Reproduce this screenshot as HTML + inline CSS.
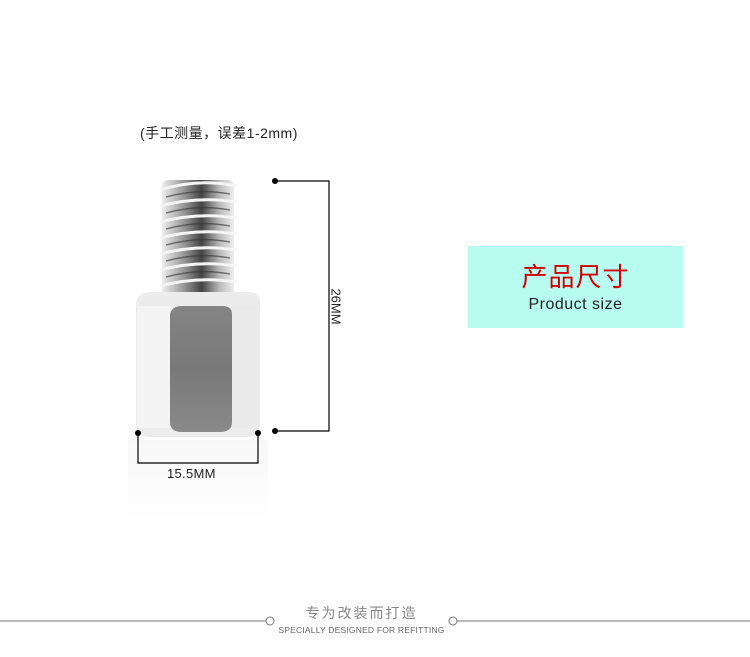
<!DOCTYPE html>
<html><head><meta charset="utf-8"><style>
html,body{margin:0;padding:0;background:#fff;}
body{width:750px;height:657px;position:relative;overflow:hidden;font-family:"Liberation Sans","Noto Sans CJK SC",sans-serif;}
.t{position:absolute;white-space:nowrap;}
</style></head><body>
<svg width="750" height="657" style="position:absolute;left:0;top:0">
<defs>
<linearGradient id="th" x1="0" x2="1">
<stop offset="0" stop-color="#eee"/><stop offset="0.3" stop-color="#999"/><stop offset="0.55" stop-color="#444"/><stop offset="0.8" stop-color="#bbb"/><stop offset="1" stop-color="#eee"/>
</linearGradient>
<linearGradient id="mid" x1="0" x2="0" y1="0" y2="1">
<stop offset="0" stop-color="#858585"/><stop offset="0.5" stop-color="#787878"/><stop offset="1" stop-color="#8a8a8a"/>
</linearGradient>
<linearGradient id="sh" x1="0" x2="0" y1="0" y2="1">
<stop offset="0" stop-color="#f7f7f7"/><stop offset="1" stop-color="#fff"/>
</linearGradient>
</defs>
<rect x="128" y="440" width="140" height="80" fill="url(#sh)"/>
<rect x="162" y="180" width="72" height="118" rx="6" fill="url(#th)"/>
<g stroke="#f4f4f4" stroke-width="3" fill="none">
<path d="M160 190 Q198 178 236 186"/><path d="M160 206 Q198 196 236 202"/><path d="M160 222 Q198 212 236 218"/>
<path d="M160 238 Q198 228 236 234"/><path d="M160 254 Q198 244 236 250"/><path d="M160 270 Q198 260 236 266"/><path d="M160 286 Q198 276 236 282"/>
</g>
<g stroke="#333" stroke-width="1.5" fill="none" opacity="0.6">
<path d="M166 197 Q198 188 230 194"/><path d="M166 213 Q198 204 230 210"/><path d="M166 229 Q198 220 230 226"/>
<path d="M166 245 Q198 236 230 242"/><path d="M166 261 Q198 252 230 258"/><path d="M166 277 Q198 268 230 274"/>
</g>
<path d="M136 302 Q138 292 152 292 L248 292 Q260 292 260 302 L260 425 Q260 437 245 437 L150 437 Q136 437 136 425 Z" fill="#ececec"/>
<rect x="137" y="306" width="33" height="122" fill="#f4f4f4"/>
<rect x="231" y="306" width="28" height="122" fill="#eaeaea"/>
<path d="M170 314 Q172 306 182 306 L222 306 Q232 306 232 314 L232 422 Q232 432 220 432 L182 432 Q170 432 170 422 Z" fill="url(#mid)"/>
<g stroke="#000" stroke-width="1.2" fill="none">
<path d="M275 181 H329 V431 H275"/>
<path d="M138 433 V463 H258 V433"/>
</g>
<g fill="#000"><circle cx="275" cy="181" r="3"/><circle cx="275" cy="431" r="3"/><circle cx="138" cy="433" r="3"/><circle cx="258" cy="433" r="3"/></g>
<rect x="468" y="246" width="215" height="82" fill="#b8fcf1"/>
<g stroke="#777" stroke-width="1" fill="#fff">
<line x1="0" y1="621" x2="266" y2="621"/><line x1="457" y1="621" x2="750" y2="621"/>
<circle cx="270" cy="621" r="4"/><circle cx="453" cy="621" r="4"/>
</g>
</svg>
<div class="t" style="left:140px;top:123px;font-size:14px;color:#222;letter-spacing:0.5px;">(手工测量，误差1-2mm)</div>
<div class="t" style="left:167px;top:466px;font-size:13px;color:#222;letter-spacing:0.3px;">15.5MM</div>
<div class="t" style="left:318px;top:299px;font-size:13px;color:#222;transform:rotate(90deg);">26MM</div>
<div class="t" style="left:468px;width:215px;text-align:center;top:262px;font-size:26px;line-height:30px;color:#d40000;letter-spacing:1px;">产品尺寸</div>
<div class="t" style="left:468px;width:215px;text-align:center;top:296px;font-size:16px;line-height:18px;color:#222;letter-spacing:0.5px;">Product size</div>
<div class="t" style="left:270px;width:183px;text-align:center;top:603px;font-size:14px;color:#888;letter-spacing:2px;">专为改装而打造</div>
<div class="t" style="left:270px;width:183px;text-align:center;top:625px;font-size:8.5px;color:#666;letter-spacing:0.2px;">SPECIALLY DESIGNED FOR REFITTING</div>
</body></html>
